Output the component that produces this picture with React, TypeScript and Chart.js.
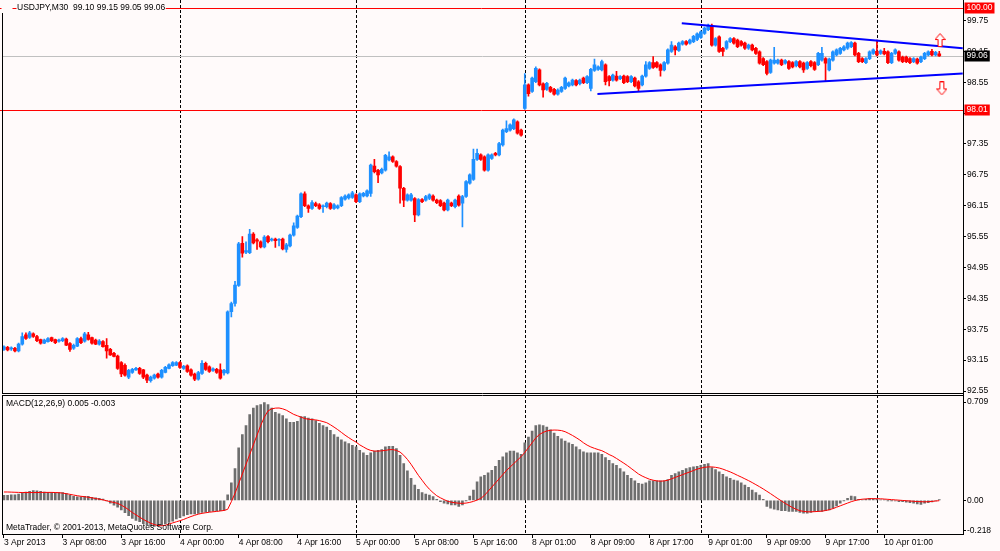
import React, { useEffect, useRef } from "react";
import { Chart, registerables } from "chart.js";

// Register chart.js modules
Chart.register(...registerables);

const FAMILY = '"Liberation Sans", Arial, sans-serif';
const BG = "#FFFAFA";
const UP = "#1E90FF";
const DOWN = "#FF0000";

// USDJPY M30 bars, 3 Apr 00:00 .. 10 Apr 08:30 (weekend skipped)
const opens = [
  93.36, 93.40, 93.37, 93.38, 93.33, 93.46, 93.64, 93.59, 93.66, 93.61,
  93.55, 93.48, 93.51, 93.59, 93.55, 93.52, 93.53, 93.56, 93.47, 93.38,
  93.42, 93.57, 93.52, 93.64, 93.59, 93.54, 93.46, 93.51, 93.44, 93.36,
  93.28, 93.23, 93.10, 93.05, 92.82, 92.91, 92.96, 92.99, 92.96, 92.86,
  92.75, 92.80, 92.88, 92.82, 92.91, 92.99, 93.04, 93.05, 93.10, 92.99,
  93.04, 92.96, 92.88, 92.78, 92.89, 93.09, 93.02, 92.95, 92.97, 92.96,
  92.90, 92.90, 94.09, 94.25, 94.60, 95.42, 95.25, 95.24, 95.60, 95.49,
  95.45, 95.35, 95.55, 95.48, 95.50, 95.48, 95.50, 95.30, 95.37, 95.58,
  95.73, 95.94, 96.38, 96.15, 96.10, 96.19, 96.17, 96.13, 96.13, 96.19,
  96.10, 96.11, 96.15, 96.28, 96.30, 96.31, 96.36, 96.23, 96.34, 96.34,
  96.39, 96.92, 96.84, 96.79, 96.84, 97.04, 97.10, 97.01, 96.91, 96.49,
  96.26, 96.26, 96.29, 95.97, 96.27, 96.26, 96.29, 96.34, 96.26, 96.25,
  96.20, 96.07, 96.20, 96.13, 96.34, 96.20, 96.33, 96.59, 96.66, 97.05,
  97.14, 97.10, 96.84, 97.07, 97.17, 97.14, 97.33, 97.59, 97.62, 97.65,
  97.78, 97.62, 98.04, 98.50, 98.37, 98.56, 98.79, 98.52, 98.41, 98.45,
  98.41, 98.32, 98.37, 98.43, 98.48, 98.50, 98.58, 98.52, 98.63, 98.54,
  98.43, 98.78, 98.80, 98.79, 98.89, 98.66, 98.59, 98.67, 98.62, 98.67,
  98.66, 98.56, 98.63, 98.56, 98.50, 98.67, 98.82, 98.93, 98.93, 98.89,
  98.79, 98.92, 99.15, 99.24, 99.17, 99.29, 99.34, 99.31, 99.34, 99.38,
  99.42, 99.50, 99.57, 99.64, 99.27, 99.43, 99.21, 99.21, 99.34, 99.40,
  99.37, 99.34, 99.31, 99.21, 99.27, 99.21, 99.14, 99.01, 98.95, 98.74,
  98.92, 98.92, 98.98, 98.92, 98.95, 98.93, 98.87, 98.95, 98.92, 98.82,
  98.95, 98.93, 98.89, 98.98, 99.01, 98.79, 98.98, 99.08, 99.11, 99.18,
  99.21, 99.24, 99.31, 99.11, 99.01, 98.93, 99.01, 99.11, 99.15, 99.11,
  99.15, 99.14, 98.93, 99.11, 99.14, 99.04, 99.04, 99.01, 98.95, 99.00,
  98.95, 99.01, 99.08, 99.15, 99.08, 99.10,
];
const highs = [
  93.43, 93.42, 93.41, 93.40, 93.48, 93.68, 93.68, 93.71, 93.68, 93.63,
  93.56, 93.56, 93.59, 93.60, 93.56, 93.56, 93.59, 93.58, 93.49, 93.46,
  93.59, 93.60, 93.69, 93.69, 93.60, 93.56, 93.55, 93.53, 93.57, 93.38,
  93.30, 93.25, 93.12, 93.08, 92.97, 92.99, 93.01, 93.01, 92.97, 92.88,
  92.84, 92.88, 92.90, 92.97, 93.03, 93.08, 93.12, 93.12, 93.12, 93.05,
  93.06, 92.98, 92.90, 92.93, 93.14, 93.11, 93.04, 93.00, 92.99, 93.08,
  92.97, 94.11, 94.28, 94.68, 95.44, 95.55, 95.45, 95.69, 95.63, 95.51,
  95.47, 95.57, 95.57, 95.52, 95.52, 95.51, 95.52, 95.42, 95.60, 95.82,
  95.97, 96.40, 96.42, 96.17, 96.25, 96.22, 96.19, 96.17, 96.22, 96.21,
  96.19, 96.17, 96.33, 96.36, 96.38, 96.43, 96.38, 96.40, 96.41, 96.46,
  96.96, 97.05, 96.86, 96.88, 97.15, 97.20, 97.12, 97.03, 96.93, 96.51,
  96.38, 96.39, 96.31, 96.29, 96.29, 96.35, 96.38, 96.36, 96.28, 96.27,
  96.22, 96.28, 96.22, 96.28, 96.36, 96.35, 96.64, 96.77, 97.25, 97.25,
  97.16, 97.12, 97.16, 97.16, 97.19, 97.38, 97.64, 97.80, 97.74, 97.84,
  97.80, 97.64, 98.72, 98.52, 98.65, 98.85, 98.81, 98.54, 98.55, 98.47,
  98.43, 98.42, 98.47, 98.65, 98.56, 98.61, 98.60, 98.61, 98.65, 98.68,
  98.82, 99.00, 98.87, 98.98, 98.91, 98.68, 98.71, 98.76, 98.68, 98.69,
  98.68, 98.68, 98.65, 98.58, 98.69, 98.95, 98.95, 99.05, 98.95, 98.91,
  98.95, 99.20, 99.34, 99.26, 99.33, 99.36, 99.36, 99.39, 99.46, 99.51,
  99.55, 99.62, 99.68, 99.68, 99.42, 99.45, 99.23, 99.36, 99.42, 99.42,
  99.39, 99.36, 99.33, 99.29, 99.29, 99.23, 99.16, 99.03, 98.97, 99.00,
  99.23, 99.00, 99.00, 98.99, 98.97, 98.95, 98.97, 98.97, 98.94, 98.95,
  98.97, 98.95, 99.13, 99.23, 99.03, 99.02, 99.16, 99.20, 99.23, 99.26,
  99.33, 99.34, 99.33, 99.13, 99.03, 99.03, 99.16, 99.20, 99.37, 99.18,
  99.21, 99.16, 99.13, 99.20, 99.16, 99.06, 99.06, 99.03, 99.03, 99.02,
  99.06, 99.13, 99.16, 99.19, 99.15, 99.15,
];
const lows = [
  93.34, 93.33, 93.34, 93.31, 93.31, 93.44, 93.55, 93.57, 93.59, 93.51,
  93.46, 93.47, 93.50, 93.51, 93.47, 93.50, 93.51, 93.43, 93.32, 93.36,
  93.41, 93.47, 93.50, 93.54, 93.46, 93.45, 93.44, 93.40, 93.19, 93.24,
  93.21, 92.97, 92.83, 92.84, 92.79, 92.89, 92.95, 92.87, 92.79, 92.71,
  92.72, 92.78, 92.80, 92.80, 92.90, 92.98, 93.03, 93.04, 92.99, 92.97,
  92.91, 92.84, 92.75, 92.76, 92.87, 92.95, 92.91, 92.93, 92.89, 92.78,
  92.86, 92.88, 93.99, 94.20, 94.58, 95.15, 95.22, 95.22, 95.41, 95.30,
  95.33, 95.33, 95.43, 95.46, 95.34, 95.37, 95.29, 95.25, 95.35, 95.56,
  95.71, 95.92, 96.13, 96.02, 96.08, 96.13, 96.08, 96.02, 96.11, 96.08,
  96.08, 96.09, 96.13, 96.26, 96.28, 96.29, 96.21, 96.21, 96.32, 96.32,
  96.33, 96.79, 96.60, 96.77, 96.82, 97.02, 96.99, 96.90, 96.20, 96.13,
  96.24, 96.24, 95.84, 95.95, 96.21, 96.24, 96.27, 96.24, 96.19, 96.13,
  96.05, 96.05, 96.13, 96.11, 96.14, 95.74, 96.31, 96.57, 96.64, 97.03,
  97.03, 96.82, 96.82, 97.05, 97.12, 97.12, 97.31, 97.57, 97.60, 97.63,
  97.54, 97.50, 98.02, 98.28, 98.35, 98.54, 98.48, 98.26, 98.39, 98.35,
  98.30, 98.30, 98.35, 98.41, 98.46, 98.48, 98.48, 98.50, 98.52, 98.52,
  98.38, 98.76, 98.78, 98.77, 98.50, 98.48, 98.57, 98.57, 98.60, 98.52,
  98.54, 98.54, 98.46, 98.37, 98.48, 98.65, 98.80, 98.82, 98.83, 98.67,
  98.77, 98.90, 99.13, 99.08, 99.15, 99.27, 99.27, 99.29, 99.32, 99.36,
  99.40, 99.48, 99.55, 99.25, 99.25, 99.13, 99.06, 99.19, 99.32, 99.29,
  99.22, 99.25, 99.19, 99.19, 99.16, 99.09, 98.90, 98.87, 98.69, 98.72,
  98.90, 98.90, 98.87, 98.90, 98.80, 98.83, 98.85, 98.83, 98.74, 98.80,
  98.85, 98.78, 98.87, 98.96, 98.56, 98.77, 98.96, 99.06, 99.09, 99.16,
  99.19, 99.22, 99.06, 98.93, 98.93, 98.91, 98.99, 99.09, 99.06, 99.09,
  99.08, 98.91, 98.91, 99.09, 98.96, 98.93, 98.93, 98.91, 98.93, 98.90,
  98.93, 98.99, 99.06, 99.06, 99.06, 99.05,
];
const closes = [
  93.41, 93.35, 93.39, 93.33, 93.46, 93.61, 93.57, 93.68, 93.61, 93.53,
  93.48, 93.54, 93.57, 93.53, 93.49, 93.54, 93.57, 93.44, 93.36, 93.44,
  93.57, 93.49, 93.66, 93.55, 93.48, 93.46, 93.52, 93.41, 93.33, 93.25,
  93.22, 92.99, 92.88, 92.86, 92.95, 92.97, 92.99, 92.89, 92.82, 92.76,
  92.82, 92.86, 92.82, 92.95, 93.01, 93.06, 93.10, 93.10, 93.01, 93.03,
  92.93, 92.86, 92.78, 92.91, 93.09, 92.97, 92.93, 92.98, 92.91, 92.80,
  92.95, 94.09, 94.25, 94.61, 95.41, 95.23, 95.28, 95.60, 95.43, 95.46,
  95.35, 95.54, 95.45, 95.50, 95.47, 95.49, 95.31, 95.39, 95.58, 95.76,
  95.95, 96.38, 96.15, 96.10, 96.21, 96.15, 96.10, 96.15, 96.20, 96.10,
  96.17, 96.15, 96.31, 96.34, 96.36, 96.40, 96.23, 96.38, 96.39, 96.44,
  96.94, 96.81, 96.75, 96.86, 97.13, 97.10, 97.01, 96.92, 96.49, 96.26,
  96.36, 96.36, 95.97, 96.27, 96.23, 96.33, 96.36, 96.26, 96.21, 96.15,
  96.07, 96.26, 96.15, 96.26, 96.16, 96.33, 96.62, 96.75, 97.05, 97.17,
  97.05, 96.84, 97.14, 97.14, 97.14, 97.36, 97.62, 97.65, 97.72, 97.82,
  97.56, 97.52, 98.50, 98.33, 98.63, 98.82, 98.50, 98.40, 98.53, 98.37,
  98.32, 98.40, 98.45, 98.63, 98.54, 98.59, 98.50, 98.59, 98.54, 98.66,
  98.80, 98.89, 98.85, 98.95, 98.56, 98.58, 98.69, 98.59, 98.66, 98.54,
  98.56, 98.66, 98.48, 98.43, 98.67, 98.89, 98.93, 98.84, 98.85, 98.78,
  98.93, 99.18, 99.27, 99.18, 99.31, 99.34, 99.29, 99.37, 99.44, 99.49,
  99.53, 99.60, 99.64, 99.27, 99.40, 99.15, 99.15, 99.34, 99.40, 99.31,
  99.24, 99.27, 99.21, 99.27, 99.18, 99.11, 98.92, 98.89, 98.72, 98.98,
  98.98, 98.98, 98.89, 98.97, 98.82, 98.85, 98.95, 98.85, 98.79, 98.93,
  98.87, 98.80, 99.11, 99.11, 98.92, 99.00, 99.14, 99.18, 99.21, 99.24,
  99.31, 99.32, 99.08, 98.95, 98.95, 99.01, 99.14, 99.18, 99.08, 99.16,
  99.10, 98.93, 99.11, 99.18, 98.98, 98.95, 98.95, 98.93, 99.01, 98.92,
  99.04, 99.11, 99.14, 99.08, 99.13, 99.06,
];

// MACD(12,26,9): main (histogram) and signal
const macdMain = [
  0.035, 0.035, 0.04, 0.04, 0.045, 0.055, 0.06, 0.065, 0.07, 0.068,
  0.065, 0.06, 0.058, 0.058, 0.055, 0.055, 0.055, 0.048, 0.035, 0.028,
  0.025, 0.025, 0.028, 0.028, 0.022, 0.018, 0.015, 0.008, -0.005, -0.02,
  -0.035, -0.05, -0.07, -0.09, -0.11, -0.13, -0.145, -0.155, -0.168, -0.178,
  -0.185, -0.188, -0.185, -0.178, -0.17, -0.16, -0.15, -0.135, -0.125, -0.112,
  -0.103, -0.098, -0.098, -0.095, -0.088, -0.085, -0.082, -0.078, -0.076, -0.075,
  -0.073, 0.04, 0.126, 0.229, 0.379, 0.475, 0.54, 0.618, 0.666, 0.683,
  0.69, 0.705, 0.69, 0.666, 0.635, 0.623, 0.611, 0.587, 0.563, 0.563,
  0.57, 0.604, 0.604, 0.594, 0.587, 0.575, 0.556, 0.54, 0.528, 0.504,
  0.475, 0.456, 0.437, 0.421, 0.409, 0.397, 0.385, 0.361, 0.342, 0.325,
  0.342, 0.356, 0.361, 0.366, 0.385, 0.39, 0.39, 0.373, 0.325, 0.265,
  0.212, 0.158, 0.11, 0.079, 0.055, 0.045, 0.038, 0.026, 0.007, -0.01,
  -0.021, -0.026, -0.033, -0.033, -0.045, -0.033, -0.002, 0.031, 0.074, 0.134,
  0.17, 0.18, 0.198, 0.217, 0.246, 0.289, 0.313, 0.342, 0.356, 0.356,
  0.342, 0.332, 0.414, 0.456, 0.499, 0.54, 0.544, 0.54, 0.528, 0.509,
  0.485, 0.461, 0.444, 0.428, 0.414, 0.404, 0.385, 0.366, 0.349, 0.342,
  0.342, 0.342, 0.342, 0.332, 0.308, 0.289, 0.265, 0.253, 0.229, 0.205,
  0.181, 0.158, 0.141, 0.122, 0.117, 0.126, 0.141, 0.141, 0.141, 0.141,
  0.141, 0.15, 0.181, 0.193, 0.205, 0.217, 0.229, 0.236, 0.241, 0.246,
  0.253, 0.26, 0.265, 0.236, 0.222, 0.205, 0.188, 0.169, 0.158, 0.146,
  0.141, 0.126, 0.11, 0.093, 0.074, 0.055, 0.038, 0.007, -0.045, -0.057,
  -0.064, -0.069, -0.074, -0.074, -0.081, -0.081, -0.081, -0.088, -0.093, -0.093,
  -0.088, -0.081, -0.081, -0.081, -0.074, -0.069, -0.057, -0.041, -0.021, -0.002,
  0.014, 0.031, 0.026, 0.007, 0.002, 0.007, 0.014, 0.012, 0.007, 0.002,
  0.002, -0.002, -0.002, -0.005, -0.01, -0.01, -0.014, -0.017, -0.021, -0.026,
  -0.029, -0.021, -0.017, -0.012, -0.004, 0.005,
];
const macdSignal = [
  0.06, 0.06, 0.059, 0.058, 0.057, 0.056, 0.056, 0.056, 0.056, 0.056,
  0.057, 0.057, 0.057, 0.057, 0.056, 0.055, 0.052, 0.048, 0.043, 0.038,
  0.033, 0.029, 0.026, 0.022, 0.018, 0.013, 0.008, 0.003, -0.003, -0.01,
  -0.016, -0.022, -0.035, -0.05, -0.068, -0.088, -0.105, -0.122, -0.138, -0.152,
  -0.165, -0.175, -0.182, -0.184, -0.18, -0.172, -0.163, -0.155, -0.147, -0.138,
  -0.127, -0.117, -0.108, -0.1, -0.094, -0.09, -0.086, -0.083, -0.08, -0.077,
  -0.073, -0.065, -0.01, 0.05, 0.12, 0.19, 0.26, 0.33, 0.4, 0.47,
  0.54, 0.6, 0.645, 0.66, 0.665, 0.666, 0.66, 0.65, 0.635, 0.62,
  0.61, 0.6, 0.59, 0.585, 0.582, 0.58, 0.575, 0.568, 0.56, 0.545,
  0.528, 0.51, 0.49, 0.47, 0.452, 0.435, 0.42, 0.4, 0.385, 0.37,
  0.36, 0.355, 0.355, 0.357, 0.36, 0.365, 0.366, 0.36, 0.348, 0.325,
  0.295, 0.26, 0.22, 0.18, 0.145, 0.11, 0.08, 0.055, 0.033, 0.018,
  0.005, -0.007, -0.014, -0.018, -0.021, -0.022, -0.02, -0.015, -0.008, 0.002,
  0.014, 0.035, 0.065, 0.095, 0.125, 0.155, 0.185, 0.215, 0.24, 0.265,
  0.29, 0.315, 0.345, 0.38, 0.415, 0.45, 0.475, 0.49, 0.5, 0.505,
  0.507, 0.506, 0.503, 0.495, 0.482, 0.468, 0.452, 0.435, 0.415, 0.398,
  0.385, 0.375, 0.366, 0.358, 0.345, 0.33, 0.318, 0.302, 0.285, 0.268,
  0.25, 0.23, 0.21, 0.19, 0.175, 0.163, 0.152, 0.145, 0.14, 0.138,
  0.14, 0.145, 0.155, 0.165, 0.175, 0.185, 0.195, 0.205, 0.215, 0.225,
  0.232, 0.238, 0.241, 0.241, 0.238, 0.233, 0.225, 0.215, 0.205, 0.193,
  0.18, 0.168, 0.155, 0.142, 0.128, 0.113, 0.098, 0.082, 0.065, 0.048,
  0.03, 0.012, -0.005, -0.022, -0.038, -0.052, -0.065, -0.075, -0.08, -0.083,
  -0.083, -0.082, -0.08, -0.078, -0.074, -0.068, -0.06, -0.05, -0.04, -0.03,
  -0.02, -0.01, -0.002, 0.004, 0.008, 0.01, 0.012, 0.012, 0.012, 0.011,
  0.009, 0.007, 0.005, 0.003, 0.001, -0.001, -0.003, -0.005, -0.007, -0.009,
  -0.01, -0.011, -0.01, -0.008, -0.005, -0.003,
];

const priceTicks = [92.55, 93.15, 93.75, 94.35, 94.95, 95.55, 96.15, 96.75, 97.35, 97.95, 98.55, 99.15, 99.75];
const macdTicks = [0.709, 0, -0.218];
const macdTickLabels = ["0.709", "0.00", "-0.218"];

const xTickBars = [0, 16, 32, 48, 64, 80, 96, 112, 128, 144, 160, 176, 192, 208, 224, 240];
const xTickLabels = [
  "3 Apr 2013", "3 Apr 08:00", "3 Apr 16:00", "4 Apr 00:00", "4 Apr 08:00", "4 Apr 16:00",
  "5 Apr 00:00", "5 Apr 08:00", "5 Apr 16:00", "8 Apr 01:00", "8 Apr 09:00", "8 Apr 17:00",
  "9 Apr 01:00", "9 Apr 09:00", "9 Apr 17:00", "10 Apr 01:00",
];

// day separators (bar index of each midnight)
const separatorBars = [48, 96, 142, 190, 238];

// horizontal levels, bid line and trend lines
const redLevels = [100.0, 98.01];
const bidPrice = 99.06;
const upperTrend = [
  { x: 184.8, y: 99.695 },
  { x: 261.4, y: 99.21 },
];
const lowerTrend = [
  { x: 161.8, y: 98.32 },
  { x: 261.4, y: 98.72 },
];
const arrowUpPoint = [{ x: 255.2, y: 99.37 }];
const arrowDownPoint = [{ x: 255.7, y: 98.43 }];

const titleText = "USDJPY,M30  99.10 99.15 99.05 99.06";
const macdTitle = "MACD(12,26,9) 0.005 -0.003";
const copyrightText = "MetaTrader, \u00A9 2001-2013, MetaQuotes Software Corp.";

function makeArrow(up: boolean): HTMLCanvasElement {
  const c = document.createElement("canvas");
  c.width = 11;
  c.height = 14;
  const g = c.getContext("2d");
  if (!g) return c;
  const pts = up
    ? [[5.5, 0.5], [10.5, 6.5], [7.5, 6.5], [7.5, 13.5], [3.5, 13.5], [3.5, 6.5], [0.5, 6.5]]
    : [[5.5, 13.5], [10.5, 7.5], [7.5, 7.5], [7.5, 0.5], [3.5, 0.5], [3.5, 7.5], [0.5, 7.5]];
  g.beginPath();
  pts.forEach(([px, py], i) => (i ? g.lineTo(px, py) : g.moveTo(px, py)));
  g.closePath();
  g.fillStyle = "#FFFFFF";
  g.fill();
  g.strokeStyle = "#FF0000";
  g.lineWidth = 1;
  g.stroke();
  return c;
}

const App: React.FC = () => {
  const chartRef = useRef<HTMLCanvasElement | null>(null);

  useEffect(() => {
    if (!chartRef.current) return;
    const ctx = chartRef.current.getContext("2d");
    if (!ctx) return;

    const barIdx = closes.map((_, i) => i);
    const colors = barIdx.map((i) => (closes[i] >= opens[i] ? UP : DOWN));
    const font = { family: FAMILY, size: 8.5 };

    const mtPlugin = {
      id: "mt4",
      beforeDraw(chart: any) {
        const c = chart.ctx;
        c.save();
        c.fillStyle = BG;
        c.fillRect(0, 0, chart.width, chart.height);
        c.restore();
      },
      beforeDatasetsDraw(chart: any) {
        const c = chart.ctx;
        const { chartArea: a, scales } = chart;
        const { x, y } = scales;
        c.save();
        c.lineWidth = 1;
        // period separators
        c.strokeStyle = "#000";
        c.setLineDash([3, 2]);
        separatorBars.forEach((b) => {
          const px = Math.round(x.getPixelForValue(b)) + 0.5;
          c.beginPath();
          c.moveTo(px, 0);
          c.lineTo(px, a.bottom);
          c.stroke();
        });
        c.setLineDash([]);
        // bid line
        c.strokeStyle = "#C0C0C0";
        const by = Math.round(y.getPixelForValue(bidPrice)) + 0.5;
        c.beginPath();
        c.moveTo(a.left, by);
        c.lineTo(a.right, by);
        c.stroke();
        // horizontal levels
        c.strokeStyle = "#FF0000";
        redLevels.forEach((v) => {
          const py = Math.round(y.getPixelForValue(v)) + 0.5;
          c.beginPath();
          c.moveTo(0, py);
          c.lineTo(a.right, py);
          c.stroke();
        });
        c.restore();
      },
      afterDatasetsDraw(chart: any) {
        const c = chart.ctx;
        const { chartArea: a, scales } = chart;
        const mainBottom = Math.round(scales.y.bottom) - 1;
        c.save();
        // gap between the two windows
        c.fillStyle = BG;
        c.fillRect(a.left, mainBottom + 1, a.right - a.left, 2);
        c.strokeStyle = "#000";
        c.lineWidth = 1;
        c.beginPath();
        c.moveTo(a.left, mainBottom + 0.5);
        c.lineTo(a.right, mainBottom + 0.5);
        c.moveTo(a.left, mainBottom + 2.5);
        c.lineTo(a.right, mainBottom + 2.5);
        c.moveTo(2.5, 13);
        c.lineTo(2.5, mainBottom + 0.5);
        c.moveTo(2.5, mainBottom + 2.5);
        c.lineTo(2.5, a.bottom);
        c.stroke();
        c.restore();
      },
      afterDraw(chart: any) {
        const c = chart.ctx;
        const { y } = chart.scales;
        c.save();
        c.font = `8.5px ${FAMILY}`;
        c.textBaseline = "middle";
        // title
        c.fillStyle = BG;
        c.fillRect(1.5, 1, 11, 12);
        const tw = c.measureText(titleText).width;
        c.fillRect(16.5, 1, tw + 1, 12);
        c.fillStyle = "#000";
        c.fillText(titleText, 17, 8);
        c.fillText(macdTitle, 6, 404);
        c.fillText(copyrightText, 6, 528);
        // price boxes on the axis
        const boxes = [
          { v: 100.0, bg: "#FF0000" },
          { v: bidPrice, bg: "#000000" },
          { v: 98.01, bg: "#FF0000" },
        ];
        boxes.forEach(({ v, bg }) => {
          const label = v.toFixed(2);
          const py = y.getPixelForValue(v);
          const w = c.measureText(label).width + 4;
          c.fillStyle = bg;
          c.fillRect(964.5, Math.round(py) - 5.5, w, 11);
          c.fillStyle = "#FFFFFF";
          c.fillText(label, 966.5, py);
        });
        c.restore();
      },
    };

    const chart = new Chart(ctx, {
      type: "bar",
      data: {
        datasets: [
          {
            type: "line",
            data: arrowUpPoint,
            showLine: false,
            pointStyle: makeArrow(true),
            pointRadius: 5,
            yAxisID: "y",
            order: 0,
          },
          {
            type: "line",
            data: arrowDownPoint,
            showLine: false,
            pointStyle: makeArrow(false),
            pointRadius: 5,
            yAxisID: "y",
            order: 0,
          },
          {
            type: "line",
            data: upperTrend,
            borderColor: "#0000FF",
            borderWidth: 2,
            pointRadius: 0,
            yAxisID: "y",
            order: 0,
          },
          {
            type: "line",
            data: lowerTrend,
            borderColor: "#0000FF",
            borderWidth: 2,
            pointRadius: 0,
            yAxisID: "y",
            order: 0,
          },
          {
            type: "line",
            data: macdSignal.map((v, i) => ({ x: i, y: v })),
            borderColor: "#FF0000",
            borderWidth: 1,
            pointRadius: 0,
            tension: 0,
            yAxisID: "y2",
            order: 0,
          },
          {
            type: "bar",
            data: barIdx.map((i) => ({ x: i, y: [opens[i], closes[i]] })),
            backgroundColor: colors,
            barThickness: 3,
            minBarLength: 1,
            grouped: false,
            yAxisID: "y",
            order: 1,
          },
          {
            type: "bar",
            data: barIdx.map((i) => ({ x: i, y: [lows[i], highs[i]] })),
            backgroundColor: colors,
            barThickness: 1,
            grouped: false,
            yAxisID: "y",
            order: 2,
          },
          {
            type: "bar",
            data: macdMain.map((v, i) => ({ x: i, y: v })),
            backgroundColor: "#6E6E6E",
            barThickness: 2,
            grouped: false,
            yAxisID: "y2",
            order: 2,
          },
        ],
      } as any,
      options: {
        responsive: false,
        animation: false,
        events: [],
        layout: { autoPadding: false, padding: { left: 2, right: 0, top: 0, bottom: 0 } },
        plugins: {
          legend: { display: false },
          tooltip: { enabled: false },
        },
        scales: {
          x: {
            type: "linear",
            min: -0.526,
            max: 261.47,
            offset: false,
            afterBuildTicks: (s: any) => {
              s.ticks = xTickBars.map((v) => ({ value: v }));
            },
            afterFit: (s: any) => {
              s.height = 17;
              s.paddingLeft = 0;
              s.paddingRight = 0;
            },
            ticks: {
              autoSkip: false,
              maxRotation: 0,
              minRotation: 0,
              align: "start",
              padding: 0,
              color: "#000",
              font,
              callback: (_v: any, i: number) => xTickLabels[i],
            },
            grid: { offset: false, drawOnChartArea: false, drawTicks: true, tickLength: 4, color: "#000" },
            border: { display: true, color: "#000" },
          },
          y: {
            type: "linear",
            position: "right",
            stack: "panes",
            stackWeight: 394.3,
            min: 92.486,
            max: 100.148,
            afterBuildTicks: (s: any) => {
              s.ticks = priceTicks.map((v) => ({ value: v }));
            },
            afterFit: (s: any) => {
              s.width = 37;
              s.paddingTop = 0;
              s.paddingBottom = 0;
            },
            ticks: {
              padding: 1,
              color: "#000",
              font,
              callback: (v: any) => Number(v).toFixed(2),
            },
            grid: { drawOnChartArea: false, drawTicks: true, tickLength: 3, color: "#000" },
            border: { display: true, color: "#000" },
          },
          y2: {
            type: "linear",
            position: "right",
            stack: "panes",
            stackWeight: 139.7,
            min: -0.2431,
            max: 0.7648,
            afterBuildTicks: (s: any) => {
              s.ticks = macdTicks.map((v) => ({ value: v }));
            },
            afterFit: (s: any) => {
              s.width = 37;
              s.paddingTop = 0;
              s.paddingBottom = 0;
            },
            ticks: {
              padding: 1,
              color: "#000",
              font,
              callback: (_v: any, i: number) => macdTickLabels[i],
            },
            grid: { drawOnChartArea: false, drawTicks: true, tickLength: 3, color: "#000" },
            border: { display: true, color: "#000" },
          },
        },
      } as any,
      plugins: [mtPlugin],
    });

    return () => {
      chart.destroy();
    };
  }, []);

  return (
    <div style={{ position: "fixed", left: 0, top: 0, width: 1000, height: 551 }}>
      <canvas ref={chartRef} width={1000} height={551} style={{ display: "block" }}></canvas>
    </div>
  );
};

export default App;
